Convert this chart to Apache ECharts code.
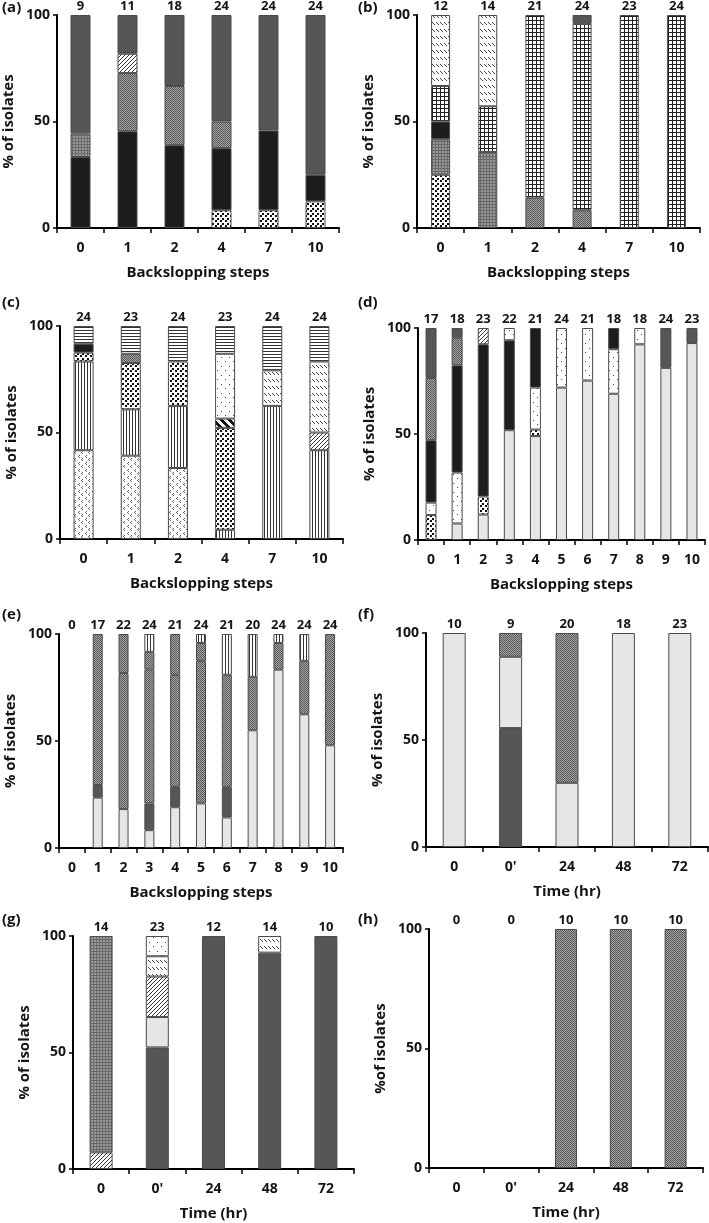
<!DOCTYPE html>
<html><head><meta charset="utf-8">
<script src="https://cdn.jsdelivr.net/npm/echarts@6/dist/echarts.min.js"></script>
<style>html,body{margin:0;padding:0;background:#fff}#c{width:709px;height:1223px}</style>
</head><body><div id="c"></div>
<script>
// ---------- categories / ticks ----------
const stepsShort = ['0','1','2','4','7','10'];
const stepsLong = ['0','1','2','3','4','5','6','7','8','9','10'];
const timeCats = ['0',"0'",'24','48','72'];
const yMin = 0, yMax = 100, yStep = 50;

// ---------- panel (a) ----------
const countsA = [9,11,18,24,24,24];
const aDots = [0,0,0,8.33,8.33,12.5];
const aBlack = [33.33,45.45,38.89,29.17,37.5,12.5];
const aGridGrey = [11.11,0,0,0,0,0];
const aMidGrey = [0,27.27,27.78,12.5,0,0];
const aHatch = [0,9.09,0,0,0,0];
const aDarkGrey = [55.56,18.18,33.33,50,54.17,75];

// ---------- panel (b) ----------
const countsB = [12,14,21,24,23,24];
const bDots = [25,0,0,0,0,0];
const bGridGrey = [16.67,35.71,0,0,0,0];
const bMidGrey = [0,0,14.29,8.33,0,0];
const bBlack = [8.33,0,0,0,0,0];
const bBrick = [16.67,21.43,85.71,87.5,100,100];
const bDashes = [33.33,42.86,0,0,0,0];
const bDarkGrey = [0,0,0,4.17,0,0];

// ---------- panel (c) ----------
const countsC = [24,23,24,23,24,24];
const cChevrons = [41.67,39.13,33.33,0,0,0];
const cVLines = [41.67,21.74,29.17,4.35,62.5,41.67];
const cBigDots = [4.17,21.74,20.83,47.83,0,0];
const cMidGrey = [0,4.35,0,0,0,0];
const cBlack = [4.17,0,0,0,0,0];
const cThick = [0,0,0,4.35,0,0];
const cSparse = [0,0,0,30.43,0,0];
const cHatch = [0,0,0,0,0,8.33];
const cDashes = [0,0,0,0,16.67,33.33];
const cHLines = [8.33,13.04,16.67,13.04,20.83,16.67];

// ---------- panel (d) ----------
const countsD = [17,18,23,22,21,24,21,18,18,24,23];
const dLightGrey = [0,7.8,12,51.8,49,71.9,75.2,69,92.3,81.2,92.9];
const dBigDots = [11.76,0,8.5,0,3.1,0,0,0,0,0,0];
const dSparse = [5.88,24,0,0,19.8,28.1,24.8,21,7.7,0,0];
const dBlack = [29.41,50.6,71.8,42.4,28.1,0,0,10,0,0,0];
const dSparseTop = [0,0,0,5.8,0,0,0,0,0,0,0];
const dMidGrey = [29.41,13,0,0,0,0,0,0,0,0,0];
const dHatch = [0,0,7.7,0,0,0,0,0,0,0,0];
const dDarkGrey = [23.53,4.6,0,0,0,0,0,0,0,18.8,7.1];

// ---------- panel (e) ----------
const countsE = [0,17,22,24,21,24,21,20,24,24,24];
const eLightGrey = [0,23.53,18.18,8.33,19.05,20.83,14.29,55,83.33,62.5,48];
const eDarkGrey = [0,5.88,0,12.5,9.52,0,14.29,0,0,0,0];
const eMidGrey = [0,70.59,63.64,62.5,52.38,66.67,52.38,25,12.5,25,52];
const eMidGrey2 = [0,0,18.18,8.33,19.05,8.33,0,0,0,0,0];
const eVLines = [0,0,0,8.33,0,4.17,19.05,20,4.17,12.5,0];

// ---------- panel (f) ----------
const countsF = [10,9,20,18,23];
const fDarkGrey = [0,55.56,0,0,0];
const fLightGrey = [100,33.33,30,100,100];
const fMidGrey = [0,11.11,70,0,0];

// ---------- panel (g) ----------
const countsG = [14,23,12,14,10];
const gDarkGrey = [0,52.17,100,92.86,100];
const gLightGrey = [0,13.04,0,0,0];
const gHatch = [7.14,17.39,0,0,0];
const gGridGrey = [92.86,0,0,0,0];
const gDashes = [0,8.7,0,7.14,0];
const gSparse = [0,8.7,0,0,0];

// ---------- panel (h) ----------
const countsH = [0,0,10,10,10];
const hMidGrey = [0,0,100,100,100];

// ---------- fill patterns ----------
function tile(w, h, bg, draw) {
  const c = document.createElement('canvas');
  c.width = w; c.height = h;
  const x = c.getContext('2d');
  x.fillStyle = bg; x.fillRect(0, 0, w, h);
  draw(x);
  return { image: c, repeat: 'repeat' };
}
function dots(x, color, pts, s) {
  x.fillStyle = color;
  pts.forEach(p => x.fillRect(p[0], p[1], s || 1, s || 1));
}
const FILL = {
  darkgrey: '#565656',
  black: '#1d1d1d',
  lightgrey: '#e6e6e6',
  midgrey: tile(2, 2, '#a4a4a4', x => dots(x, '#5a5a5a', [[0,0],[1,1]])),
  gridgrey: tile(3, 3, '#9a9a9a', x => { x.fillStyle = '#686868'; x.fillRect(0,0,3,1); x.fillRect(0,0,1,3); }),
  hatch: tile(4, 4, '#ffffff', x => dots(x, '#333', [[0,3],[1,2],[2,1],[3,0]])),
  bigdots: tile(5, 5, '#ffffff', x => dots(x, '#111', [[0,0],[2,3]], 2)),
  brick: tile(4, 4, '#ffffff', x => { x.fillStyle = '#222'; x.fillRect(0,0,4,1); x.fillRect(0,0,1,4); }),
  dashes: tile(4, 7, '#ffffff', x => dots(x, '#444', [[0,1],[1,2],[2,3]])),
  hlines: tile(1, 3, '#ffffff', x => dots(x, '#333', [[0,0]])),
  vlines: tile(3, 1, '#ffffff', x => dots(x, '#333', [[0,0]])),
  sparse: tile(8, 9, '#ffffff', x => dots(x, '#444', [[1,1],[5,6]])),
  chevrons: tile(7, 7, '#ffffff', x => dots(x, '#666', [[2,0],[1,1],[2,2],[5,3],[4,4],[5,5]])),
  thick: tile(8, 8, '#ffffff', x => {
    x.fillStyle = '#111';
    for (let i = 0; i < 8; i++) for (let j = 0; j < 8; j++) if (((i - j + 16) % 8) < 4) x.fillRect(i, j, 1, 1);
  })
};

// ---------- layout ----------
const panels = [
  { letter:'(a)', lx:2,   ly:0,   left:57,  top:15,  width:282, height:213, cats:stepsShort, counts:countsA, xName:'Backslopping steps', yName:'% of isolates', bw:20,
    layers:[['bigdots',aDots],['black',aBlack],['gridgrey',aGridGrey],['midgrey',aMidGrey],['hatch',aHatch],['darkgrey',aDarkGrey]] },
  { letter:'(b)', lx:358, ly:0,   left:417, top:15,  width:283, height:213, cats:stepsShort, counts:countsB, xName:'Backslopping steps', yName:'% of isolates', bw:19,
    layers:[['bigdots',bDots],['gridgrey',bGridGrey],['midgrey',bMidGrey],['black',bBlack],['brick',bBrick],['dashes',bDashes],['darkgrey',bDarkGrey]] },
  { letter:'(c)', lx:2,   ly:295, left:60,  top:326, width:283, height:213, cats:stepsShort, counts:countsC, xName:'Backslopping steps', yName:'% of isolates', bw:20,
    layers:[['chevrons',cChevrons],['vlines',cVLines],['bigdots',cBigDots],['midgrey',cMidGrey],['black',cBlack],['thick',cThick],['sparse',cSparse],['hatch',cHatch],['dashes',cDashes],['hlines',cHLines]] },
  { letter:'(d)', lx:358, ly:295, left:418, top:328, width:287, height:212, cats:stepsLong, counts:countsD, xName:'Backslopping steps', yName:'% of isolates', bw:11,
    layers:[['lightgrey',dLightGrey],['bigdots',dBigDots],['sparse',dSparse],['black',dBlack],['sparse',dSparseTop],['midgrey',dMidGrey],['hatch',dHatch],['darkgrey',dDarkGrey]] },
  { letter:'(e)', lx:2,   ly:607, left:59,  top:634, width:284, height:214, cats:stepsLong, counts:countsE, xName:'Backslopping steps', yName:'% of isolates', bw:10,
    layers:[['lightgrey',eLightGrey],['darkgrey',eDarkGrey],['midgrey',eMidGrey],['midgrey',eMidGrey2],['vlines',eVLines]] },
  { letter:'(f)', lx:358, ly:607, left:426, top:633, width:282, height:214, cats:timeCats, counts:countsF, xName:'Time (hr)', yName:'% of isolates', bw:23,
    layers:[['darkgrey',fDarkGrey],['lightgrey',fLightGrey],['midgrey',fMidGrey]] },
  { letter:'(g)', lx:2,   ly:912, left:73,  top:936, width:281, height:233, cats:timeCats, counts:countsG, xName:'Time (hr)', yName:'% of isolates', bw:23,
    layers:[['darkgrey',gDarkGrey],['lightgrey',gLightGrey],['hatch',gHatch],['gridgrey',gGridGrey],['dashes',gDashes],['sparse',gSparse]] },
  { letter:'(h)', lx:358, ly:912, left:429, top:929, width:274, height:239, cats:timeCats, counts:countsH, xName:'Time (hr)', yName:'%of isolates', bw:22,
    layers:[['midgrey',hMidGrey]] }
];

const FONT = '"Open Sans"';
const INK = '#141414';
const grids = [], xAxes = [], yAxes = [], series = [], graphics = [];
const N = panels.length;

panels.forEach((p, i) => {
  grids.push({ left: p.left, top: p.top, width: p.width, height: p.height, containLabel: false });
  xAxes[i] = {
    gridIndex: i, type: 'category', data: p.cats, position: 'bottom',
    axisLine: { show: true, lineStyle: { color: '#000', width: 2 } },
    axisTick: { show: true, length: 5, lineStyle: { color: '#000', width: 1.5 } },
    axisLabel: { interval: 0, margin: 13, fontFamily: FONT, fontWeight: 'bold', fontSize: 14, color: INK },
    splitLine: { show: false },
    name: p.xName, nameLocation: 'middle', nameGap: 37,
    nameTextStyle: { fontFamily: FONT, fontWeight: 'bold', fontSize: 15, color: INK }
  };
  xAxes[N + i] = {
    gridIndex: i, type: 'category', data: p.counts.map(String), position: 'top',
    axisLine: { show: false }, axisTick: { show: false }, splitLine: { show: false },
    axisLabel: { interval: 0, margin: 2, fontFamily: FONT, fontWeight: 'bold', fontSize: 13, color: INK }
  };
  yAxes.push({
    gridIndex: i, type: 'value', min: yMin, max: yMax, interval: yStep,
    axisLine: { show: true, lineStyle: { color: '#000', width: 2 } },
    axisTick: { show: true, length: 4, lineStyle: { color: '#000', width: 1.5 } },
    axisLabel: { margin: 7, fontFamily: FONT, fontWeight: 'bold', fontSize: 14, color: INK },
    splitLine: { show: false },
    name: p.yName, nameLocation: 'middle', nameGap: 41,
    nameTextStyle: { fontFamily: FONT, fontWeight: 'bold', fontSize: 15, color: INK }
  });
  p.layers.forEach((ly, k) => {
    series.push({
      type: 'bar', name: p.letter + k, xAxisIndex: i, yAxisIndex: i, stack: 'p' + i,
      barWidth: p.bw, silent: true, animation: false,
      data: ly[1].map(v => (v === 0 ? '-' : v)),
      itemStyle: { color: FILL[ly[0]], borderColor: '#4a4a4a', borderWidth: 1 }
    });
  });
  graphics.push({ type: 'text', left: p.lx, top: p.ly,
    style: { text: p.letter, font: 'bold 15px ' + FONT, fill: INK } });
});

const chart = echarts.init(document.getElementById('c'), null, { renderer: 'canvas' });
chart.setOption({
  animation: false,
  backgroundColor: '#fff',
  grid: grids, xAxis: xAxes, yAxis: yAxes, series: series, graphic: graphics
});
</script></body></html>
